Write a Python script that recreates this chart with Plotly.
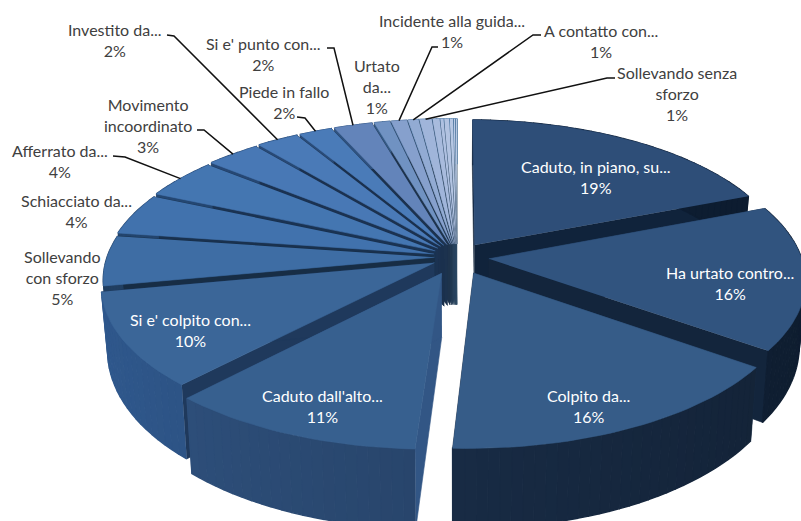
import numpy as np
import plotly.graph_objects as go

# ---------- data ----------
categories = ["Caduto, in piano, su...", "Ha urtato contro...", "Colpito da...", "Caduto dall'alto...",
              "Si e' colpito con...", "Sollevando<br>con sforzo", "Schiacciato da...", "Afferrato da...",
              "Movimento<br>incoordinato", "Investito da...", "Piede in fallo", "Si e' punto con...",
              "Urtato<br>da...", "Incidente alla guida...", "A contatto con...", "Sollevando senza<br>sforzo",
              "", "", "", "", "", ""]
values = [19, 16, 16, 11, 10, 5.3, 4.4, 4.3, 3.1, 2.4, 1.9, 2.2, 0.9, 0.9, 0.6, 0.7, 0.4, 0.2, 0.3, 0.2, 0.1, 0.1]

# ---------- styles ----------
top_colors = ["#2E4E78", "#31547F", "#365C88", "#37608F", "#3B6698", "#3E6DA4", "#4172AD", "#4476B1",
              "#4878B5", "#4A7AB7", "#4A7BB8", "#6384BA", "#7092C2", "#86A0CD", "#92ABD3", "#A0B5DA",
              "#A8BBDD", "#AEC0E0", "#B2C3E1", "#B6C7E3", "#BACAE5", "#BECDE6"]
wall_colors = ["#10233B", "#13253C", "#182B44", "#28456B", "#284A76", "#1C3552", "#1E3A5C", "#1F3D62",
               "#223F66", "#24426A", "#26456E", "#2C4D78", "#32567F", "#385E88", "#3C6690", "#426C98",
               "#44709C", "#4674A0", "#4876A2", "#4A78A4", "#4C7AA6", "#4E7CA8"]
radial_factor = [1.0, 1.0, 1.0, 1.25, 0.78, 0.85, 0.85, 0.85, 0.8, 0.75, 0.7, 0.65, 0.6, 0.6, 0.6, 0.6,
                 0.6, 0.6, 0.6, 0.6, 0.6, 0.6]
explode = [0.10, 0.10, 0.12, 0.12, 0.08, 0.07, 0.075, 0.08, 0.085, 0.09, 0.09, 0.09, 0.09, 0.09,
           0.09, 0.09, 0.09, 0.09, 0.09, 0.09, 0.09, 0.09]

# label centres (px) per slice; None = no label
label_pos = [(596, 177), (730, 283), (588, 406), (322, 406), (190, 330), (62, 277), (76, 211), (60, 161),
             (148, 125), (115, 40), (284, 102), (263, 54), (377, 86), (452, 31), (601, 41), (677, 93),
             None, None, None, None, None, None]
white_labels = 5
# leader elbows (px) per slice
leaders = {7: [(113, 156), (125, 157)], 8: [(197, 130), (204, 130)], 9: [(167, 35), (174, 36)],
           10: [(297, 117), (305, 118)], 11: [(327, 48), (334, 48)], 13: [(438, 47), (432, 47)],
           14: [(541, 35), (533, 35)], 15: [(615, 78), (607, 78)]}

CX, CY, RX, RY, P, Q = 457, 257, 320, 146, 0.14, 0.02


def project(u, v):
    u, v = np.asarray(u, float), np.asarray(v, float)
    s = 1 / (1 + P * v + Q * u)
    return CX + RX * u * s, CY - RY * v * s


def drop(x, y, v):
    return CX + (x - CX) * 0.982, y + 62 - 16 * np.asarray(v, float)


def hex_scale(c, f):
    r = [int(c[i:i + 2], 16) for i in (1, 3, 5)]
    r = [min(255, int(a * f)) for a in r]
    return "#%02X%02X%02X" % tuple(r)


fig = go.Figure()


def poly(x, y, color, lw=0.6):
    fig.add_trace(go.Scatter(x=list(x), y=list(y), mode="lines", fill="toself", fillcolor=color,
                             line=dict(color=color, width=lw), hoverinfo="skip", showlegend=False))


vals = np.array(values, float)
edges = np.concatenate([[0], np.cumsum(vals)]) / vals.sum() * 2 * np.pi
mids = (edges[:-1] + edges[1:]) / 2
order = np.argsort(-np.cos(mids))
rim_points = {}

for i in order:
    a0, a1, m, e = edges[i], edges[i + 1], mids[i], explode[i]
    du, dv = e * np.sin(m), e * np.cos(m)
    n = max(3, int((a1 - a0) / 0.03))
    th = np.linspace(a0, a1, n)
    rim_u, rim_v = du + np.sin(th), dv + np.cos(th)
    rx, ry = project(rim_u, rim_v)
    ax, ay = project(du, dv)
    bx, by = drop(rx, ry, rim_v)
    apbx, apby = drop(ax, ay, dv)
    wall = wall_colors[i]
    radial = hex_scale(wall, radial_factor[i])
    # radial walls
    poly([ax, rx[0], bx[0], apbx], [ay, ry[0], by[0], apby], radial)
    poly([ax, rx[-1], bx[-1], apbx], [ay, ry[-1], by[-1], apby], radial)
    # rim wall, shaded piece by piece
    for k in range(n - 1):
        f = 1 + 0.2 * float(-np.sin(th[k]))
        poly([rx[k], rx[k + 1], bx[k + 1], bx[k]], [ry[k], ry[k + 1], by[k + 1], by[k]],
             hex_scale(wall, f), lw=1.4)
    # top face
    poly(np.concatenate([[ax], rx]), np.concatenate([[ay], ry]), top_colors[i])
    mu, mv = du + np.sin(m), dv + np.cos(m)
    rim_points[i] = tuple(float(t) for t in project(mu, mv))

# leader lines
for i, pts in leaders.items():
    xs = [p[0] for p in pts] + [rim_points[i][0]]
    ys = [p[1] for p in pts] + [rim_points[i][1]]
    fig.add_trace(go.Scatter(x=xs, y=ys, mode="lines", line=dict(color="#111111", width=1.5),
                             hoverinfo="skip", showlegend=False))

# labels
for i, (cat, val) in enumerate(zip(categories, values)):
    if label_pos[i] is None:
        continue
    pct = max(1, int(round(val)))
    fig.add_annotation(x=label_pos[i][0], y=label_pos[i][1], text=f"{cat}<br>{pct}%", showarrow=False,
                       xanchor="center", yanchor="middle", align="center",
                       font=dict(family="Lato, Open Sans, sans-serif", size=16,
                                 color="#FFFFFF" if i < white_labels else "#404040"))

fig.update_layout(width=801, height=521, margin=dict(l=0, r=0, t=0, b=0), paper_bgcolor="white",
                  plot_bgcolor="white", showlegend=False,
                  xaxis=dict(range=[0, 801], visible=False, fixedrange=True),
                  yaxis=dict(range=[521, 0], visible=False, fixedrange=True))
fig.write_html("out.html", config={"displayModeBar": False},
               post_script="document.body.style.margin='0';document.body.style.overflow='hidden';")
